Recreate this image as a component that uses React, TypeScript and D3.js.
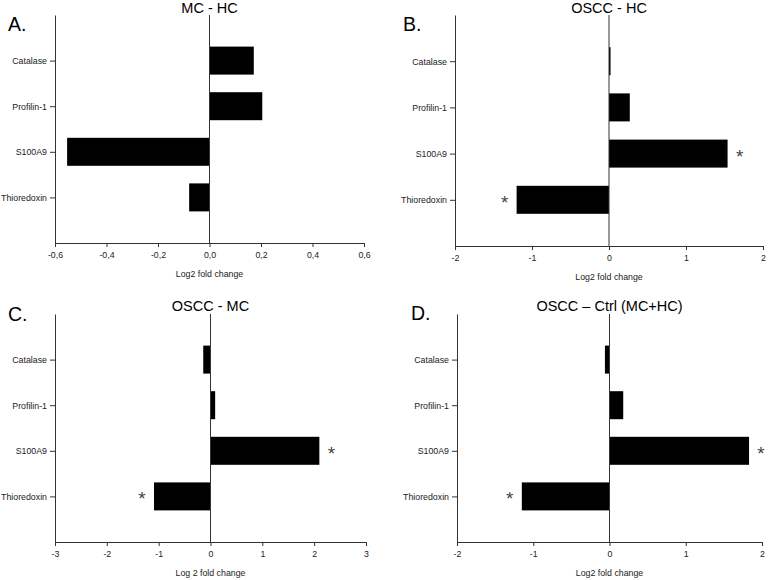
import { useEffect, useRef } from "react";
import * as d3 from "d3";

const proteins = ["Catalase", "Profilin-1", "S100A9", "Thioredoxin"];

// log2 fold change per comparison (same order as proteins)
const mcHc = [0.172, 0.205, -0.553, -0.079];
const osccHc = [0.02, 0.27, 1.54, -1.2];
const osccMc = [-0.14, 0.09, 2.1, -1.09];
const osccCtrl = [-0.06, 0.18, 1.83, -1.15];

// significance markers
const starsA = [false, false, false, false];
const starsB = [false, false, true, true];
const starsC = [false, false, true, true];
const starsD = [false, false, true, true];

const ticksA = [-0.6, -0.4, -0.2, 0, 0.2, 0.4, 0.6];
const ticksB = [-2, -1, 0, 1, 2];
const ticksC = [-3, -2, -1, 0, 1, 2, 3];
const ticksD = [-2, -1, 0, 1, 2];

const locale = d3.formatLocale({
  decimal: ",",
  thousands: ".",
  grouping: [3],
  currency: ["", ""],
  minus: "-",
});

const panels = [
  { letter: "A.", title: "MC - HC", values: mcHc, stars: starsA, ticks: ticksA, fmt: locale.format(".1f"),
    xlabel: "Log2 fold change", left: 55, right: 364, top: 15, bottom: 243, lx: 8, ly: 31, ty: 13 },
  { letter: "B.", title: "OSCC - HC", values: osccHc, stars: starsB, ticks: ticksB, fmt: locale.format("d"),
    xlabel: "Log2 fold change", left: 455, right: 763, top: 15, bottom: 246, lx: 403, ly: 31, ty: 13 },
  { letter: "C.", title: "OSCC - MC", values: osccMc, stars: starsC, ticks: ticksC, fmt: locale.format("d"),
    xlabel: "Log 2 fold change", left: 55, right: 366, top: 314, bottom: 542, lx: 8, ly: 321, ty: 311 },
  { letter: "D.", title: "OSCC \u2013 Ctrl (MC+HC)", values: osccCtrl, stars: starsD, ticks: ticksD, fmt: locale.format("d"),
    xlabel: "Log2 fold change", left: 457, right: 762, top: 314, bottom: 542, lx: 411, ly: 320, ty: 311 },
];

const FONT = "'Liberation Sans', Arial, sans-serif";

export default function App() {
  const ref = useRef<SVGSVGElement | null>(null);

  useEffect(() => {
    if (!ref.current) return;
    const svg = d3.select(ref.current);
    svg.selectAll("*").remove();

    svg.append("rect").attr("width", 771).attr("height", 580).attr("fill", "#fff");

    panels.forEach((p) => {
      const g = svg.append("g");
      const x = d3
        .scaleLinear()
        .domain([p.ticks[0], p.ticks[p.ticks.length - 1]])
        .range([p.left, p.right]);
      const y = d3.scalePoint<string>().domain(proteins).range([p.top, p.bottom]).padding(1);
      const barH = 28;

      // bars
      g.selectAll("rect.bar")
        .data(p.values)
        .join("rect")
        .attr("class", "bar")
        .attr("x", (d) => Math.min(x(0), x(d)))
        .attr("width", (d) => Math.abs(x(d) - x(0)))
        .attr("y", (_, i) => (y(proteins[i]) as number) - barH / 2)
        .attr("height", barH)
        .attr("fill", "#000");

      // zero line
      g.append("line")
        .attr("x1", x(0))
        .attr("x2", x(0))
        .attr("y1", p.top)
        .attr("y2", p.bottom)
        .attr("stroke", "#333")
        .attr("stroke-width", 1);

      // x axis
      const xa = g
        .append("g")
        .attr("transform", `translate(0,${p.bottom})`)
        .call(
          d3.axisBottom(x).tickValues(p.ticks).tickFormat((d) => p.fmt(d as number)).tickSize(4).tickSizeOuter(0).tickPadding(5)
        );
      // y axis
      const ya = g
        .append("g")
        .attr("transform", `translate(${p.left},0)`)
        .call(d3.axisLeft(y).tickSize(5).tickSizeOuter(0).tickPadding(3));

      [xa, ya].forEach((a) => {
        a.selectAll("path,line").attr("stroke", "#333");
        a.selectAll("text").attr("fill", "#222").attr("font-family", FONT).attr("font-size", 8.8);
      });

      // stars
      g.selectAll("text.star")
        .data(p.values.map((v, i) => ({ v, i, s: p.stars[i] })).filter((d) => d.s))
        .join("text")
        .attr("class", "star")
        .attr("x", (d) => x(d.v) + (d.v > 0 ? 12 : -12))
        .attr("y", (d) => (y(proteins[d.i]) as number) + 9)
        .attr("text-anchor", "middle")
        .attr("font-family", FONT)
        .attr("font-size", 19)
        .attr("fill", "#444")
        .text("*");

      // axis label
      g.append("text")
        .attr("x", (p.left + p.right) / 2)
        .attr("y", p.bottom + 34)
        .attr("text-anchor", "middle")
        .attr("font-family", FONT)
        .attr("font-size", 8.8)
        .attr("fill", "#222")
        .text(p.xlabel);

      // title
      g.append("text")
        .attr("x", x(0))
        .attr("y", p.ty)
        .attr("text-anchor", "middle")
        .attr("font-family", FONT)
        .attr("font-size", 14.5)
        .attr("fill", "#000")
        .text(p.title);

      // panel letter
      g.append("text")
        .attr("x", p.lx)
        .attr("y", p.ly)
        .attr("font-family", FONT)
        .attr("font-size", 19.5)
        .attr("fill", "#000")
        .text(p.letter);
    });
  }, []);

  return (
    <svg
      ref={ref}
      width={771}
      height={580}
      style={{ position: "absolute", left: 0, top: 0, display: "block" }}
    ></svg>
  );
}
